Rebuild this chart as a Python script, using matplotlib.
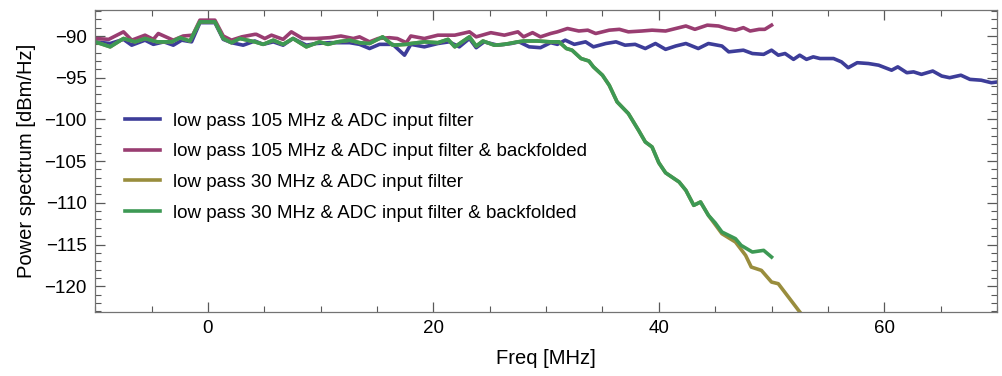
import numpy as np
import matplotlib
matplotlib.use('Agg')
import matplotlib.pyplot as plt
from matplotlib.ticker import MultipleLocator

plt.rcParams['font.family'] = ['Liberation Sans', 'DejaVu Sans']

# low pass 105 MHz & ADC input filter
blue_freq = [-10, -8.67, -7.49, -6.76, -5.58, -4.84, -3.9, -3.07, -2.33, -1.45, -0.71, 0.62, 1.36, 2.09, 3.13, 4.16,
             4.9, 5.8, 6.67, 7.55, 8.73, 9.62, 10.8, 11.7, 12.57, 13.45, 14.34, 15.22, 16.4, 17.44,
             18.0, 19.2, 20.4, 21.4, 22.3, 23.2, 23.8, 24.5, 25.7, 26.9, 27.6, 28.5, 29.5, 30.4, 31.0,
             31.7, 32.5, 33.5, 34.2, 35.3, 36.2, 37.0, 37.9, 38.8, 39.7, 40.6, 41.5, 42.4, 43.5, 44.4,
             45.6, 46.2, 47.5, 48.3, 49.3, 50.0, 50.6, 51.2, 51.95, 52.5, 53.1, 53.7, 54.3, 55.5, 56.2,
             56.8, 57.6, 58.6, 59.5, 60.65, 61.2, 62.0, 62.6, 63.3, 64.3, 65.1, 65.8, 66.8, 67.6, 68.6,
             69.5, 70.1]
blue_power = [-90.7, -90.9, -90.4, -91.1, -90.5, -91.0, -90.7, -91.1, -90.5, -90.7, -88.4, -88.4, -90.4, -90.8, -91.1, -90.6,
              -91.0, -90.7, -91.1, -90.3, -91.1, -90.9, -90.8, -90.8, -90.8, -91.0, -91.5, -91.0, -91.0, -92.3,
              -91.0, -91.3, -90.9, -90.7, -91.3, -90.3, -91.4, -90.7, -91.1, -90.9, -90.7, -91.3, -91.4, -90.8, -91.0,
              -90.5, -91.0, -90.7, -91.3, -90.9, -90.7, -91.1, -91.0, -91.5, -90.9, -91.6, -91.2, -90.9, -91.5, -90.9,
              -91.2, -91.9, -91.7, -92.1, -92.2, -91.7, -92.3, -92.1, -92.8, -92.3, -92.8, -92.5, -92.7, -92.7, -93.1,
              -93.8, -93.2, -93.3, -93.5, -94.1, -93.7, -94.4, -94.3, -94.6, -94.2, -94.8, -95.0, -94.7, -95.2, -95.3,
              -95.6, -95.5]

# low pass 105 MHz & ADC input filter & backfolded
magenta_freq = [-10, -8.8, -7.49, -6.76, -5.58, -4.84, -4.4, -3.07, -2.2, -1.35, -0.71, 0.62, 1.36, 2.09, 3.0, 4.16,
                4.3, 5.05, 5.64, 6.67, 7.4, 8.4, 9.6, 10.8, 11.8, 12.9, 13.45, 14.34, 15.1, 16.1, 16.8, 17.6,
                18.0, 19.2, 20.4, 21.9, 23.2, 23.8, 25.1, 26.3, 27.5, 28.0, 28.8, 29.5, 30.4, 31.0,
                31.9, 32.9, 33.7, 34.4, 35.6, 36.5, 37.3, 38.5, 39.4, 40.6, 41.5, 42.4, 43.2, 44.3, 45.3,
                46.05, 46.8, 47.5, 48.1, 48.9, 49.4, 50.0]
magenta_power = [-90.3, -90.4, -89.5, -90.5, -89.9, -90.4, -89.7, -90.5, -90.0, -89.9, -88.1, -88.1, -90.0, -90.5, -90.1, -89.8,
                 -89.8, -90.3, -89.9, -90.4, -89.5, -90.3, -90.3, -90.2, -90.0, -90.3, -90.1, -90.7, -90.3, -90.2, -90.3, -90.8,
                 -90.0, -90.3, -89.9, -89.9, -89.5, -90.1, -89.6, -89.9, -89.5, -90.1, -89.6, -90.1, -89.7, -89.5,
                 -89.1, -89.4, -89.3, -89.7, -89.3, -89.2, -89.5, -89.4, -89.3, -89.4, -89.1, -88.8, -89.2, -88.7, -88.8,
                 -89.1, -89.3, -89.0, -89.4, -89.2, -89.2, -88.7]

# low pass 30 MHz & ADC input filter & backfolded
green_freq = [-10, -8.67, -7.49, -6.46, -5.58, -4.5, -3.2, -2.48, -1.6, -0.71, 0.62, 1.36, 2.09, 2.83, 4.16,
              4.9, 5.8, 6.67, 7.55, 8.73, 9.9, 10.65, 11.5, 12.57, 13.45, 14.34, 15.5, 16.4, 17.6,
              18.0, 19.2, 20.4, 21.3, 21.9, 23.2, 23.8, 24.4, 25.4, 26.3, 27.5, 28.0, 29.2, 30.4, 31.15,
              31.8, 32.3, 33.1, 33.8, 34.2, 35.0, 35.6, 36.3, 37.3, 38.2, 38.8, 39.4, 40.0, 40.6, 41.8,
              42.4, 43.1, 43.7, 44.4, 45.0, 45.6, 46.8, 47.3, 48.3, 49.3, 50.0]
green_power = [-90.7, -91.3, -90.3, -90.7, -90.3, -90.7, -90.7, -90.2, -90.6, -88.3, -88.3, -90.3, -90.8, -90.3, -90.7,
               -91.0, -90.5, -91.0, -90.3, -91.3, -90.7, -91.0, -90.7, -90.5, -90.8, -90.9, -90.1, -91.1, -91.0,
               -90.9, -90.7, -90.8, -90.4, -91.3, -90.1, -91.2, -90.6, -91.1, -91.0, -90.7, -90.6, -90.6, -90.7, -90.7,
               -91.5, -91.7, -92.7, -93.0, -93.7, -94.7, -95.9, -97.9, -99.3, -101.3, -102.7, -103.3, -105.2, -106.4, -107.5,
               -108.5, -110.3, -109.9, -111.5, -112.4, -113.5, -114.3, -115.1, -115.9, -115.7, -116.5]

# low pass 30 MHz & ADC input filter (hidden under green below ~44 MHz)
gold_freq = green_freq[:63] + [45.0, 45.6, 46.8, 47.7, 48.2, 49.1, 50.0, 50.6, 51.5, 52.4, 53.2]
gold_power = green_power[:63] + [-112.6, -113.7, -114.7, -116.3, -117.7, -118.1, -119.5, -119.7, -121.3, -122.9, -124.3]

labels = ['low pass 105 MHz & ADC input filter',
          'low pass 105 MHz & ADC input filter & backfolded',
          'low pass 30 MHz & ADC input filter',
          'low pass 30 MHz & ADC input filter & backfolded']
colors = ['#3d3d99', '#993d71', '#998d3d', '#3d9954']

fig = plt.figure(figsize=(10.02, 3.76), dpi=100)
ax = fig.add_axes([0.095, 0.170, 0.9, 0.803])

series = [(blue_freq, blue_power), (magenta_freq, magenta_power),
          (gold_freq, gold_power), (green_freq, green_power)]
for (f, p), lab, c in zip(series, labels, colors):
	ax.plot(f, p, color=c, lw=2.6, label=lab)

ax.set_xlim(-10, 70)
ax.set_ylim(-123.1, -86.9)
ax.xaxis.set_major_locator(MultipleLocator(20))
ax.xaxis.set_minor_locator(MultipleLocator(5))
ax.yaxis.set_major_locator(MultipleLocator(5))
ax.yaxis.set_minor_locator(MultipleLocator(1))
ax.tick_params(which='both', direction='in', top=True, right=True, color='0.35', labelsize=13.5)
ax.tick_params(which='major', length=7, width=0.9, pad=6)
ax.tick_params(which='minor', length=4, width=0.8)
for s in ax.spines.values():
	s.set_color('0.45')
	s.set_linewidth(0.9)

ax.set_xlabel('Freq [MHz]', fontsize=14.5, labelpad=8)
ax.set_ylabel('Power spectrum [dBm/Hz]', fontsize=14.5, labelpad=6)

ax.legend(loc='center left', bbox_to_anchor=(0.033, 0.48), frameon=False, fontsize=13.5,
          handlelength=1.87, handletextpad=0.7, labelspacing=0.72, borderpad=0, borderaxespad=0)

fig.savefig('out.png', dpi=100)
